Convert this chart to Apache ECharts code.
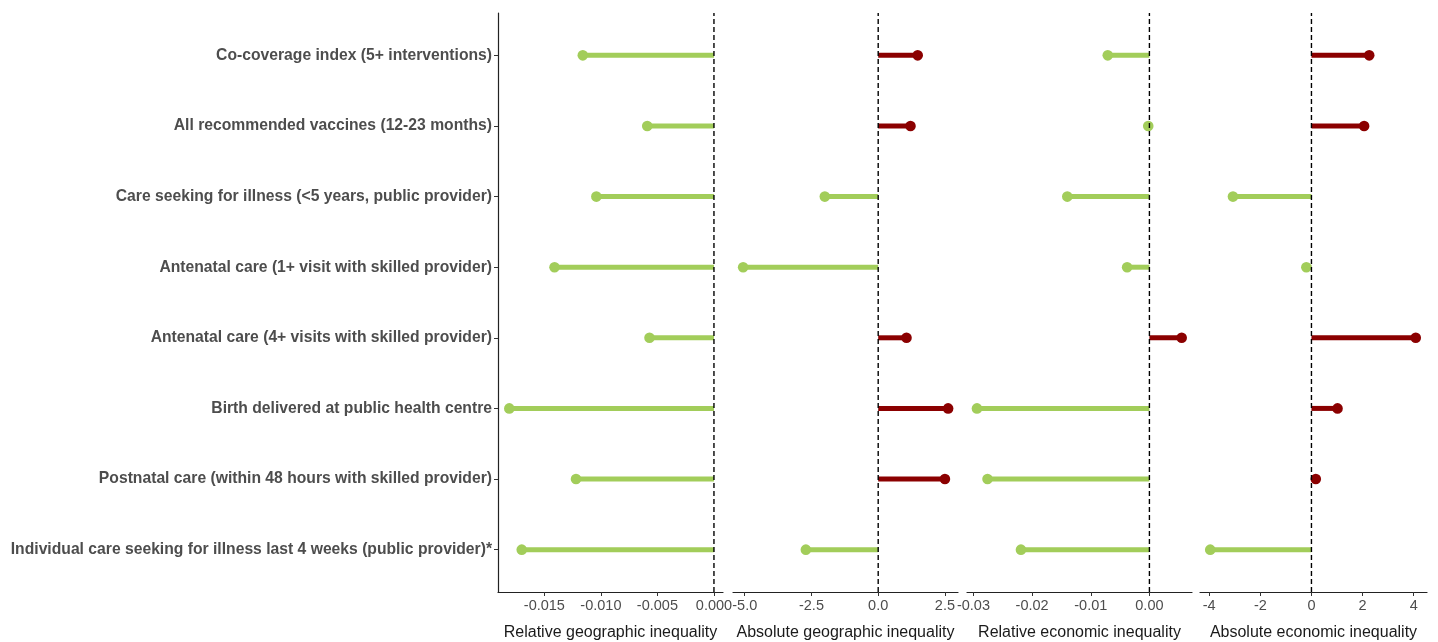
<!DOCTYPE html>
<html>
<head>
<meta charset="utf-8">
<script src="https://cdn.jsdelivr.net/npm/echarts@6/dist/echarts.min.js"></script>
<style>
html,body{margin:0;padding:0;background:#ffffff;}
#chart{width:1438px;height:642px;}
</style>
</head>
<body>
<div id="chart"></div>
<script>
// Categories, top to bottom
const categories = [
  "Co-coverage index (5+ interventions)",
  "All recommended vaccines (12-23 months)",
  "Care seeking for illness (<5 years, public provider)",
  "Antenatal care (1+ visit with skilled provider)",
  "Antenatal care (4+ visits with skilled provider)",
  "Birth delivered at public health centre",
  "Postnatal care (within 48 hours with skilled provider)",
  "Individual care seeking for illness last 4 weeks (public provider)*"
];

// Series values (same order as categories)
const relativeGeographic = [-0.0116, -0.0059, -0.0104, -0.0141, -0.0057, -0.0181, -0.0122, -0.0170];
const absoluteGeographic = [1.48, 1.21, -2.00, -5.06, 1.06, 2.62, 2.50, -2.71];
const relativeEconomic   = [-0.0071, -0.0002, -0.0140, -0.0038, 0.0055, -0.0294, -0.0276, -0.0219];
const absoluteEconomic   = [2.26, 2.06, -3.07, -0.20, 4.08, 1.02, 0.17, -3.96];

// Tick labels
const relGeoTicks = [-0.015, -0.010, -0.005, 0.000];
const absGeoTicks = [-5.0, -2.5, 0.0, 2.5];
const relEcoTicks = [-0.03, -0.02, -0.01, 0.00];
const absEcoTicks = [-4, -2, 0, 2, 4];

const panelTitles = ["Relative geographic inequality", "Absolute geographic inequality",
                     "Relative economic inequality", "Absolute economic inequality"];

const panels = [
  {vals: relativeGeographic, ticks: relGeoTicks, dec: 3, min: -0.0191, max: 0.0008, left: 498, width: 225},
  {vals: absoluteGeographic, ticks: absGeoTicks, dec: 1, min: -5.44, max: 2.99, left: 733, width: 225},
  {vals: relativeEconomic,   ticks: relEcoTicks, dec: 2, min: -0.0311, max: 0.00726, left: 967, width: 225},
  {vals: absoluteEconomic,   ticks: absEcoTicks, dec: 0, min: -4.36, max: 4.52, left: 1200, width: 227}
];

const GREEN = '#A2CD5A';
const RED = '#8B0000';
const FONT = '"Liberation Sans", Arial, sans-serif';
const rowPos = [8, 7, 6, 5, 4, 3, 2, 1];

const grids = [], xAxes = [], yAxes = [], series = [];
panels.forEach((p, k) => {
  grids.push({left: p.left, width: p.width, top: 13, height: 579, containLabel: false, outerBoundsMode: 'none'});
  xAxes.push({
    type: 'value', gridIndex: k, min: p.min, max: p.max,
    name: panelTitles[k], nameLocation: 'middle', nameGap: 33,
    nameTextStyle: {color: '#1a1a1a', fontSize: 16, fontFamily: FONT},
    splitLine: {show: false},
    axisLine: {show: true, onZero: false, lineStyle: {color: '#222', width: 1.2}},
    axisTick: {show: true, length: 4, customValues: p.ticks, lineStyle: {color: '#333'}},
    axisLabel: {show: true, customValues: p.ticks, color: '#4D4D4D', fontSize: 14.5, fontFamily: FONT, margin: 6,
      formatter: v => Number(v).toFixed(p.dec)}
  });
  yAxes.push({
    type: 'value', gridIndex: k, min: 0.4, max: 8.6,
    splitLine: {show: false},
    axisLine: {show: k === 0, onZero: false, lineStyle: {color: '#222', width: 1.2}},
    axisTick: {show: k === 0, length: 4, customValues: rowPos, lineStyle: {color: '#333'}},
    axisLabel: {show: k === 0, customValues: rowPos, color: '#4D4D4D', fontSize: 15.7, fontWeight: 'bold',
      fontFamily: FONT, margin: 6, formatter: v => categories[8 - Math.round(v)]}
  });
  series.push({
    type: 'custom', xAxisIndex: k, yAxisIndex: k, z: 2,
    data: p.vals.map((v, i) => [v, rowPos[i]]),
    renderItem: function (params, api) {
      const v = api.value(0), y = api.value(1);
      const a = api.coord([0, y]);
      const b = api.coord([v, y]);
      const c = v > 0 ? RED : GREEN;
      return {type: 'group', children: [
        {type: 'line', shape: {x1: a[0], y1: a[1], x2: b[0], y2: b[1]}, style: {stroke: c, lineWidth: 5}},
        {type: 'circle', shape: {cx: b[0], cy: b[1], r: 5.3}, style: {fill: c}}
      ]};
    }
  });
  series.push({
    type: 'line', xAxisIndex: k, yAxisIndex: k, z: 3, symbol: 'none', silent: true,
    data: [[0, 0.4], [0, 8.6]],
    lineStyle: {color: '#000', width: 1.4, type: [5, 3]}
  });
});

const chart = echarts.init(document.getElementById('chart'), null, {renderer: 'canvas'});
chart.setOption({
  backgroundColor: '#ffffff',
  animation: false,
  grid: grids, xAxis: xAxes, yAxis: yAxes, series: series
});
</script>
</body>
</html>
